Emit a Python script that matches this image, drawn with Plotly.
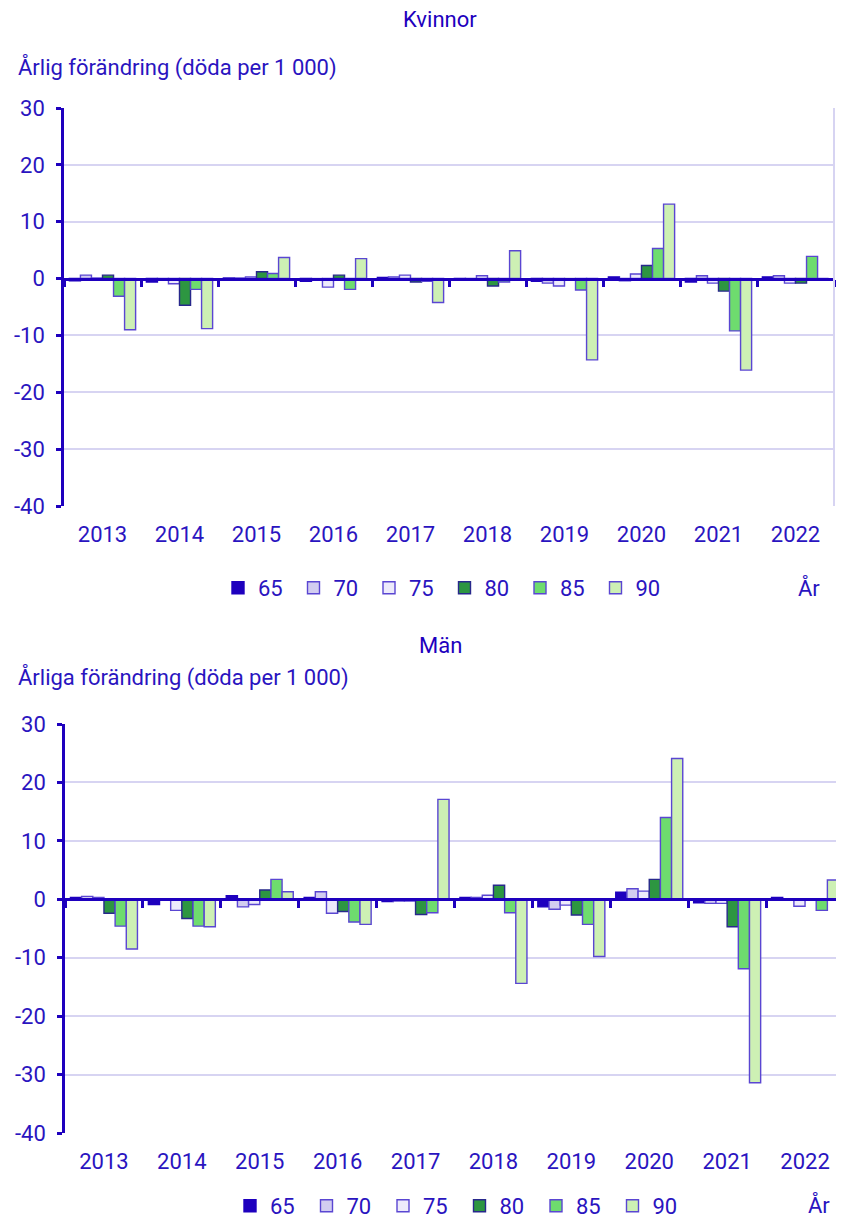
import plotly.graph_objects as go

years = [2013, 2014, 2015, 2016, 2017, 2018, 2019, 2020, 2021, 2022]
ages = ["65", "70", "75", "80", "85", "90"]
yticks = [-40, -30, -20, -10, 0, 10, 20, 30]

# Kvinnor: annual change (deaths per 1 000) per age
kvinnor = {
    "65": [-0.4, -0.6, 0.1, -0.5, 0.2, -0.3, -0.5, 0.3, -0.6, 0.3],
    "70": [0.6, -0.3, 0.1, -0.1, 0.3, -0.3, -0.8, -0.4, 0.5, 0.5],
    "75": [0.1, -0.9, 0.3, -1.5, 0.6, 0.5, -1.3, 0.8, -0.8, -0.8],
    "80": [0.6, -4.7, 1.2, 0.6, -0.6, -1.3, -0.1, 2.3, -2.2, -0.8],
    "85": [-3.1, -1.9, 0.9, -1.9, -0.5, -0.6, -2.0, 5.3, -9.2, 3.9],
    "90": [-9.0, -8.8, 3.7, 3.5, -4.2, 4.9, -14.3, 13.1, -16.1, 0.0],
}
# Män
man = {
    "65": [0.3, -0.9, 0.6, 0.3, -0.4, 0.3, -1.3, 1.2, -0.6, 0.3],
    "70": [0.5, -0.1, -1.3, 1.3, -0.3, 0.3, -1.7, 1.8, -0.7, -0.1],
    "75": [0.3, -1.9, -0.9, -2.4, -0.3, 0.7, -1.0, 1.4, -0.7, -1.2],
    "80": [-2.4, -3.3, 1.6, -2.1, -2.6, 2.4, -2.7, 3.4, -4.7, -0.1],
    "85": [-4.6, -4.6, 3.4, -3.9, -2.3, -2.3, -4.3, 14.0, -11.9, -1.9],
    "90": [-8.5, -4.7, 1.3, -4.3, 17.1, -14.4, -9.8, 24.1, -31.4, 3.3],
}

fill_colors = {
    "65": "#1E00BE", "70": "#D2CDF0", "75": "#EDEBFB",
    "80": "#2D9641", "85": "#6EDC6E", "90": "#CDF0B4",
}
line_colors = {
    "65": "#1E00BE", "70": "#5A46D2", "75": "#5A46D2",
    "80": "#28288C", "85": "#5A46D2", "90": "#5A46D2",
}

TXT = "#2A14C0"
AX = "#1E00BE"
GRID = "#D7D4F2"
FONT = "Roboto"
FS = 22

# The page body has an 8 px margin; figure sized so page == window.
OFF = 8
W, H = 844 - OFF, 1221 - OFF

def px(x):
    return (x - OFF) / W

def py(y):
    return 1 - (y - OFF) / H

fig = go.Figure()

def add_series(data, xa, ya, legend):
    for a in ages:
        fig.add_trace(go.Bar(
            x=years, y=data[a], name=a, xaxis=xa, yaxis=ya, legend=legend,
            marker=dict(color=fill_colors[a], line=dict(color=line_colors[a], width=1.4)),
            hovertemplate="%{x}: %{y}<extra>" + a + "</extra>",
        ))

add_series(kvinnor, "x", "y", "legend")
add_series(man, "x3", "y3", "legend2")

top_x = [px(64), px(834)]
top_y = [py(506), py(108)]
bot_x = [px(65), min(1.0, px(845))]
bot_y = [py(1133), py(724)]

yr = [yticks[0], yticks[-1]]
zero_frac = (0 - yr[0]) / (yr[1] - yr[0])
bounds = [y - 0.5 for y in years] + [years[-1] + 0.5]
xrange_ = [years[0] - 0.5, years[-1] + 0.5]

tickfont = dict(family=FONT, size=FS, color=TXT)

def xaxis_main(domain, anchor):
    return dict(domain=domain, anchor=anchor, range=xrange_, tickmode="array",
                tickvals=years, ticktext=[str(y) for y in years], ticks="",
                showline=False, showgrid=False, zeroline=False, tickfont=tickfont,
                ticklabelstandoff=13, fixedrange=True, automargin=False)

def xaxis_zero(domain, overlay, ydom):
    return dict(domain=domain, overlaying=overlay, anchor="free",
                position=ydom[0] + (ydom[1] - ydom[0]) * zero_frac,
                range=xrange_, tickmode="array", tickvals=bounds, ticks="outside",
                ticklen=7, tickwidth=2.5, tickcolor=AX, showticklabels=False,
                showline=True, linecolor=AX, linewidth=2.5, showgrid=False,
                zeroline=False, fixedrange=True, automargin=False)

def yaxis_main(domain, anchor):
    return dict(domain=domain, anchor=anchor, range=yr, tickmode="array",
                tickvals=yticks, ticktext=[str(v) for v in yticks],
                showline=True, linecolor=AX, linewidth=2.5, ticks="outside",
                ticklen=5, tickwidth=2.5, tickcolor=AX, showgrid=True,
                gridcolor=GRID, gridwidth=2, zeroline=False, tickfont=tickfont,
                ticklabelstandoff=7, fixedrange=True, automargin=False)

fig.add_trace(go.Scatter(x=[], y=[], xaxis="x2", yaxis="y", showlegend=False))
fig.add_trace(go.Scatter(x=[], y=[], xaxis="x4", yaxis="y3", showlegend=False))

legend_common = dict(orientation="h", xanchor="left", yanchor="middle",
                     xref="container", yref="container",
                     font=dict(family=FONT, size=FS, color=TXT),
                     entrywidthmode="pixels",
                     bgcolor="rgba(0,0,0,0)", itemclick=False, itemdoubleclick=False,
                     traceorder="normal")

fig.update_layout(
    width=W, height=H, margin=dict(l=0, r=0, t=0, b=0, autoexpand=False),
    paper_bgcolor="white", plot_bgcolor="white",
    barmode="group", bargap=0.14, bargroupgap=0,
    font=dict(family=FONT, size=FS, color=TXT),
    xaxis=xaxis_main(top_x, "y"),
    xaxis2=xaxis_zero(top_x, "x", top_y),
    yaxis=yaxis_main(top_y, "x"),
    xaxis3=xaxis_main(bot_x, "y3"),
    xaxis4=xaxis_zero(bot_x, "x3", bot_y),
    yaxis3=yaxis_main(bot_y, "x3"),
    legend=dict(x=px(218), y=py(588), entrywidth=30.5, **legend_common),
    legend2=dict(x=px(230), y=py(1206), entrywidth=31.5, **legend_common),
    showlegend=True,
)

annotations = [
    dict(text="Kvinnor", x=px(440), y=py(20), xanchor="center", yanchor="middle",
         font=dict(size=FS, color=AX)),
    dict(text="Årlig förändring (döda per 1 000)", x=px(16), y=py(67),
         xanchor="left", yanchor="middle", font=dict(size=FS, color=TXT)),
    dict(text="År", x=px(809), y=py(588), xanchor="center", yanchor="middle",
         font=dict(size=FS, color=TXT)),
    dict(text="Män", x=px(440), y=py(645), xanchor="center", yanchor="middle",
         font=dict(size=FS, color=AX)),
    dict(text="Årliga förändring (döda per 1 000)", x=px(16), y=py(678),
         xanchor="left", yanchor="middle", font=dict(size=FS, color=TXT)),
    dict(text="År", x=px(819), y=py(1205), xanchor="center", yanchor="middle",
         font=dict(size=FS, color=TXT)),
]
for a in annotations:
    a.update(xref="paper", yref="paper", showarrow=False)
    a["font"]["family"] = FONT
fig.update_layout(annotations=annotations)

# light right border line of the top panel
fig.add_shape(type="line", xref="x domain", yref="y domain", x0=1, x1=1, y0=0, y1=1,
              line=dict(color=GRID, width=2))

fig.write_html("out.html")
